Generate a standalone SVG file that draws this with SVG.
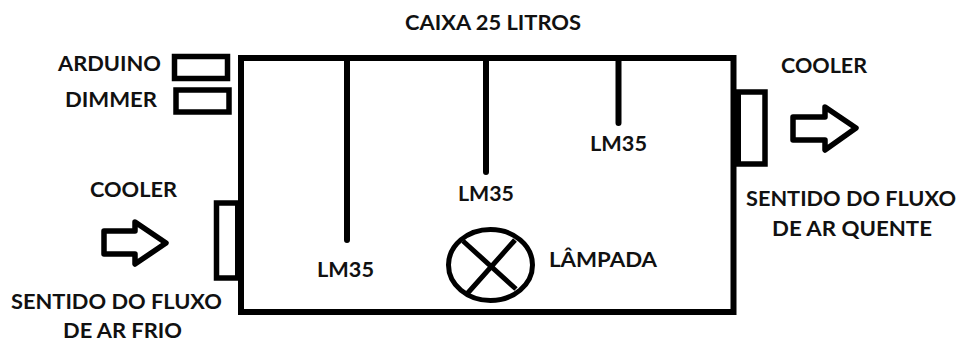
<svg xmlns="http://www.w3.org/2000/svg" width="960" height="342" viewBox="0 0 960 342">
<style>
.t{font-family:"Lato","Open Sans","Liberation Sans",sans-serif;font-weight:700;font-size:21.500px;fill:#111;}
.s{fill:none;stroke:#000;stroke-width:6;}
.b{fill:#fff;stroke:#000;stroke-width:5.5;}
.p{stroke:#000;stroke-width:6;stroke-linecap:round;fill:none;}
.a{fill:#fff;stroke:#000;stroke-width:5.5;stroke-linejoin:round;}
.l{fill:#fff;stroke:#000;stroke-width:5;}
</style>
<rect width="960" height="342" fill="#fff"/>
<g id="caixa"><rect class="s" x="241" y="58" width="492.500" height="254"/>
<text class="t" x="405" y="30" textLength="176" lengthAdjust="spacingAndGlyphs">CAIXA 25 LITROS</text></g>
<g id="arduino"><rect class="b" x="174.500" y="56.500" width="53" height="22"/>
<text class="t" x="58" y="71" textLength="103" lengthAdjust="spacingAndGlyphs">ARDUINO</text></g>
<g id="dimmer"><rect class="b" x="176" y="90" width="53" height="22"/>
<text class="t" x="65" y="107" textLength="92" lengthAdjust="spacingAndGlyphs">DIMMER</text></g>
<g id="cooler-entrada"><rect class="b" x="216.500" y="203" width="22" height="75"/>
<rect x="235" y="202" width="6" height="77" fill="#000"/>
<text class="t" x="90" y="197" textLength="87" lengthAdjust="spacingAndGlyphs">COOLER</text></g>
<g id="fluxo-frio"><path class="a" d="M104 231H135V222L166 243L135 264V254H104Z"/>
<text class="t" x="11" y="309" textLength="211" lengthAdjust="spacingAndGlyphs">SENTIDO DO FLUXO</text>
<text class="t" x="63" y="337.500" textLength="119" lengthAdjust="spacingAndGlyphs">DE AR FRIO</text></g>
<g id="cooler-saida"><rect class="b" x="738" y="92" width="27" height="72"/>
<rect x="733" y="91" width="8" height="74" fill="#000"/>
<text class="t" x="781" y="73" textLength="86" lengthAdjust="spacingAndGlyphs">COOLER</text></g>
<g id="fluxo-quente"><path class="a" d="M793 117H825V107L856 128L825 150V140H793Z"/>
<text class="t" x="746" y="206" textLength="210" lengthAdjust="spacingAndGlyphs">SENTIDO DO FLUXO</text>
<text class="t" x="772" y="236" textLength="160" lengthAdjust="spacingAndGlyphs">DE AR QUENTE</text></g>
<g id="lampada"><ellipse class="l" cx="490.500" cy="265" rx="42" ry="35.500"/>
<path d="M463 241L516 289M515 240L466 295" stroke="#000" stroke-width="5" fill="none"/>
<text class="t" x="549" y="267" textLength="108" lengthAdjust="spacingAndGlyphs">LÂMPADA</text></g>
<g id="lm35-1"><text class="t" x="317" y="277" textLength="57" lengthAdjust="spacingAndGlyphs">LM35</text></g>
<g id="lm35-2"><text class="t" x="458" y="201" textLength="56" lengthAdjust="spacingAndGlyphs">LM35</text></g>
<g id="lm35-3"><text class="t" x="590" y="151" textLength="57" lengthAdjust="spacingAndGlyphs">LM35</text></g>
<g id="conectores"><path class="p" d="M347 58V240M486 58V172M618.500 58V123"/></g>
</svg>
